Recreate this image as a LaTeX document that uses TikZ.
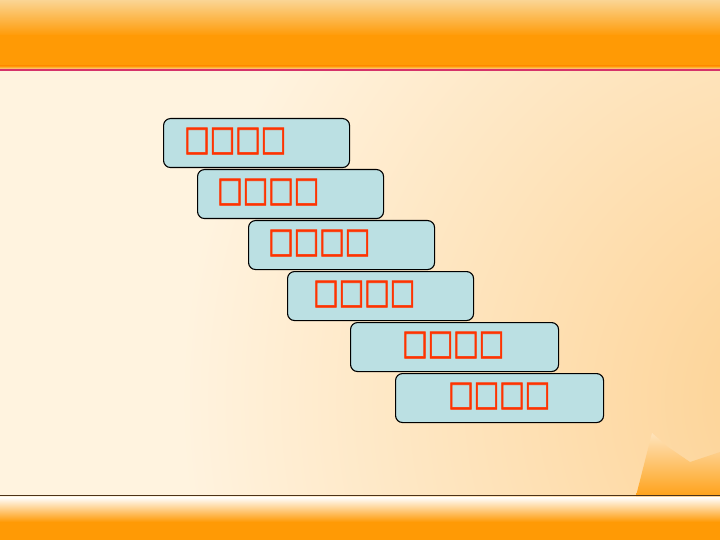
\documentclass[tikz,border=0pt]{standalone}
\usepackage{fontspec}
\newfontfamily\boxfont[FakeBold=2]{DejaVu Sans}
\usetikzlibrary{positioning}

\definecolor{cream}{HTML}{FFF3DF}
\definecolor{peach}{HTML}{FDD08F}
\definecolor{bandorange}{HTML}{FF9A05}
\definecolor{bandlight}{HTML}{FAD594}
\definecolor{pinkline}{HTML}{D6336A}
\definecolor{stepfill}{HTML}{BBE0E3}
\definecolor{steptext}{HTML}{FF3300}

\tikzset{
  stepbox/.style={draw=black, line width=1.1pt, fill=stepfill, rounded corners=7pt,
    minimum width=186pt, minimum height=49pt, anchor=north west, inner sep=0pt},
  widebox/.style={stepbox, minimum width=208pt},
  steplabel/.style={anchor=west, inner sep=0pt, text=steptext,
    font=\boxfont\fontsize{27}{27}\selectfont}
}
\newcommand{\tallsq}[1]{\scalebox{1}[1.28]{#1}}

\begin{document}
\begin{tikzpicture}[x=1pt,y=1pt,yscale=-1,xscale=1]
\useasboundingbox (0,0) rectangle (720,540);

%Shape: Background
\fill[cream] (0,0) rectangle (720,540);
\begin{scope}
  \clip (0,70) rectangle (720,496);
  \shade[inner color=peach, outer color=cream] (820,400) circle (640);
  %Shape: corner wedge
  \shade[top color=peach!60!white, bottom color=bandorange!85!peach]
    (652,433) -- (668,447) -- (690,462) -- (720,452) -- (720,496) -- (636,496) -- cycle ;
\end{scope}

%Shape: Top band
\shade[top color=bandlight, bottom color=bandorange] (0,0) rectangle (720,36);
\fill[bandorange] (0,35.5) rectangle (720,66);
\shade[top color=bandorange, bottom color=bandlight] (0,66) rectangle (720,69);
\fill[pinkline] (0,69) rectangle (720,71.5);

%Shape: Bottom band
\draw[color=black!60!brown, line width=0.8pt] (0,495.5) -- (720,495.5);
\shade[top color=white, bottom color=bandorange] (0,497) rectangle (720,522);
\fill[bandorange] (0,521.5) rectangle (720,540);

%Shape: Steps
\node[stepbox] (b1) at (163,118) {};
\node[stepbox] (b2) at (197,169) {};
\node[stepbox] (b3) at (248,220) {};
\node[stepbox] (b4) at (287,271) {};
\node[widebox] (b5) at (350,322) {};
\node[widebox] (b6) at (395,373) {};

% Text Node
\node[steplabel] (t1) at ([xshift=21pt,yshift=-2pt]b1.west) {\tallsq{□□□□}};
% Text Node
\node[steplabel] (t2) at ([xshift=20pt,yshift=-2pt]b2.west) {\tallsq{□□□□}};
% Text Node
\node[steplabel] (t3) at ([xshift=20pt,yshift=-2pt]b3.west) {\tallsq{□□□□}};
% Text Node
\node[steplabel] (t4) at ([xshift=26pt,yshift=-2pt]b4.west) {\tallsq{□□□□}};
% Text Node
\node[steplabel] (t5) at ([xshift=52pt,yshift=-2pt]b5.west) {\tallsq{□□□□}};
% Text Node
\node[steplabel] (t6) at ([xshift=53pt,yshift=-2pt]b6.west) {\tallsq{□□□□}};

\end{tikzpicture}
\end{document}
